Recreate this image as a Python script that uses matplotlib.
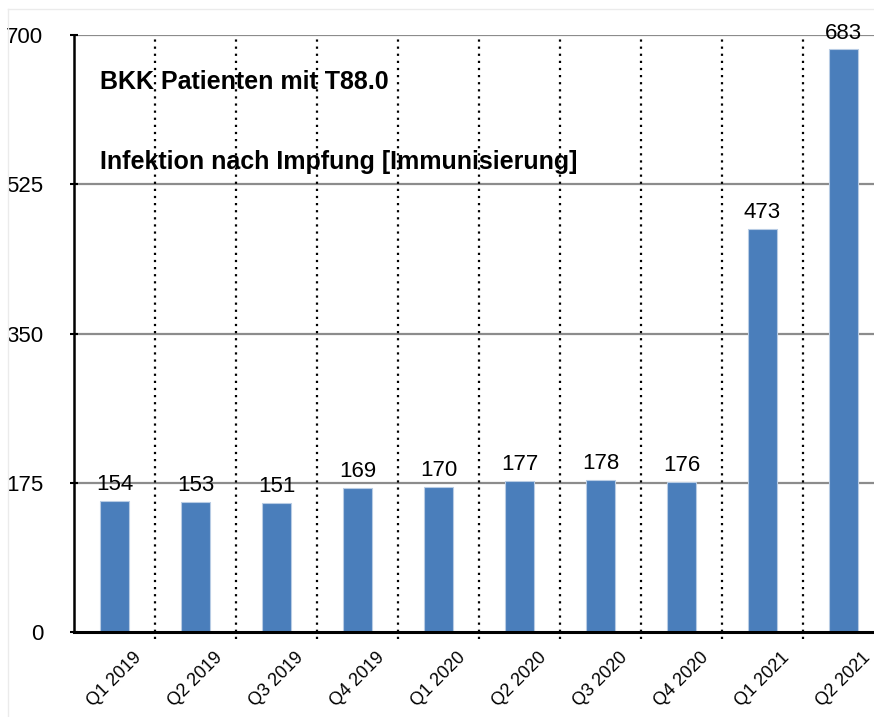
import matplotlib
matplotlib.use("Agg")
import matplotlib.pyplot as plt
from matplotlib import font_manager
from matplotlib.transforms import ScaledTranslation
from matplotlib.lines import Line2D

categories = ["Q1 2019", "Q2 2019", "Q3 2019", "Q4 2019", "Q1 2020",
              "Q2 2020", "Q3 2020", "Q4 2020", "Q1 2021", "Q2 2021"]
values = [154, 153, 151, 169, 170, 177, 178, 176, 473, 683]
yticks = [0, 175, 350, 525, 700]
title1 = "BKK Patienten mit T88.0"
title2 = "Infektion nach Impfung [Immunisierung]"

names = {f.name for f in font_manager.fontManager.ttflist}
fam = "Liberation Sans Narrow" if "Liberation Sans Narrow" in names else "Liberation Sans"
plt.rcParams["font.family"] = [fam, "DejaVu Sans"]

W, H = 874, 717
fig = plt.figure(figsize=(W / 100, H / 100), dpi=100)
# faint frame of the original screenshot
fig.add_artist(Line2D([8 / W, 8 / W], [0, 1 - 9 / H], color="#EBEBEB", lw=1))
fig.add_artist(Line2D([8 / W, 1], [1 - 9 / H, 1 - 9 / H], color="#EBEBEB", lw=1))

ax = fig.add_axes([74 / W, (H - 632) / H, 810 / W, 597 / H])

x = list(range(len(categories)))
ax.bar(x, values, width=0.37, color="#4A7EBB", edgecolor="#B8CCE4", linewidth=0.8, zorder=3)

ax.set_xlim(-0.5, len(categories) - 0.5)
ax.set_ylim(0, 700)
ax.set_yticks(yticks)
ax.set_yticklabels([str(t) for t in yticks], fontsize=16)
for t in yticks[1:]:
    ax.axhline(t, color="#8C8C8C", lw=1.6, zorder=1)

for b in range(len(categories)):
    ax.axvline(b + 0.5, ymin=-0.012, ymax=1, color="black", ls=(0, (1, 2.2)), lw=1.6,
               clip_on=False, zorder=2)

ax.set_xticks(x)
ax.set_xticklabels(categories, rotation=45, ha="right", va="top", fontsize=13,
                   rotation_mode="anchor")
ax.tick_params(axis="x", length=0, pad=12)
off = ScaledTranslation(13 / 72, 0, fig.dpi_scale_trans)
for lab in ax.get_xticklabels():
    lab.set_transform(lab.get_transform() + off)
ax.tick_params(axis="y", direction="inout", length=6, width=1.5, pad=19)

for s in ["top", "right"]:
    ax.spines[s].set_visible(False)
ax.spines["left"].set_linewidth(1.8)
ax.spines["bottom"].set_linewidth(2.2)
ax.spines["left"].set_zorder(4)
ax.spines["bottom"].set_zorder(4)

for xi, v in zip(x, values):
    ax.text(xi, v + 7, str(v), ha="center", va="bottom", fontsize=16, zorder=5)

ax.text(0.032, 0.922, title1, transform=ax.transAxes, fontsize=18, fontweight="bold",
        va="center", ha="left", zorder=5)
ax.text(0.032, 0.788, title2, transform=ax.transAxes, fontsize=18, fontweight="bold",
        va="center", ha="left", zorder=5)

fig.savefig("out.png", dpi=100)
